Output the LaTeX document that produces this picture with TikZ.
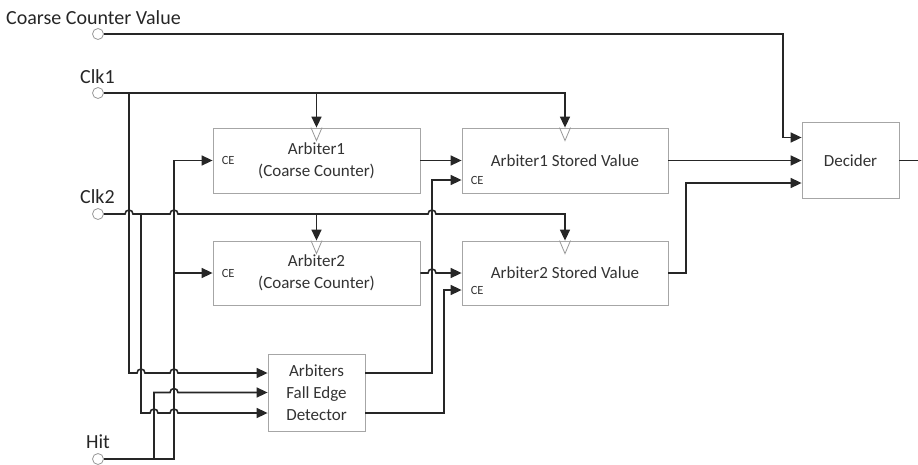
\documentclass[tikz,border=0pt]{standalone}
\usepackage{fontspec}
\setmainfont{Carlito}
\usetikzlibrary{arrows.meta}
\begin{document}
\begin{tikzpicture}[x=1pt,y=-1pt,
 wire/.style={line width=1.6pt, draw=black!85},
 arr/.style={wire, -{Triangle[length=11pt,width=10pt]}},
 blk/.style={draw=black!35, line width=0.8pt, fill=white, inner sep=0pt, text=black!80, font=\fontsize{17}{22}\selectfont, align=center},
 lbl/.style={inner sep=0pt, text=black!85, font=\fontsize{20}{23}\selectfont},
 ce/.style={inner sep=0pt, text=black!80, font=\fontsize{12.5}{14}\selectfont},
 pin/.style={circle, draw=black!40, fill=white, line width=0.8pt, minimum size=11pt, inner sep=0pt},
 clk/.style={draw=black!40, line width=0.8pt},
]
\useasboundingbox (0,0) rectangle (918,464);

% blocks
\node[blk, minimum width=207pt, minimum height=65pt] (arb1) at (316.5,160.5) {Arbiter1\\(Coarse Counter)};
\node[blk, minimum width=207pt, minimum height=64pt] (arb2) at (316.5,273) {Arbiter2\\(Coarse Counter)};
\node[blk, minimum width=206pt, minimum height=65pt] (sv1) at (565,160.5) {Arbiter1 Stored Value};
\node[blk, minimum width=206pt, minimum height=64pt] (sv2) at (565,273) {Arbiter2 Stored Value};
\node[blk, minimum width=97pt, minimum height=76pt] (dec) at (850.5,160.5) {Decider};
\node[blk, minimum width=97pt, minimum height=77pt] (fed) at (316.5,392.5) {Arbiters\\Fall Edge\\Detector};

% CE labels
\node[ce, anchor=west] (ce1) at ([xshift=9pt]arb1.west) {CE};
\node[ce, anchor=west] (ce2) at ([xshift=9pt]arb2.west) {CE};
\node[ce, anchor=west] (ce3) at ([xshift=9pt,yshift=-19.5pt]sv1.west) {CE};
\node[ce, anchor=west] (ce4) at ([xshift=9pt,yshift=-17pt]sv2.west) {CE};

% clock triangles
\foreach \n in {arb1,arb2,sv1,sv2}
  \draw[clk] ([xshift=-5.5pt]\n.north) -- ([yshift=-13pt]\n.north) -- ([xshift=5.5pt]\n.north);

% input pins and labels
\node[pin] (ccv) at (98,34) {};
\node[pin] (clk1) at (98,93) {};
\node[pin] (clk2) at (98,214) {};
\node[pin] (hit) at (98,459) {};
\node[lbl, anchor=base west] (ccvL) at (6,24) {Coarse Counter Value};
\node[lbl, anchor=base west] (clk1L) at (80,83) {Clk1};
\node[lbl, anchor=base west] (clk2L) at (80,203) {Clk2};
\node[lbl, anchor=base west] (hitL) at (86,448) {Hit};

% junction coordinates
\coordinate (j1) at (129,93);
\coordinate (j2) at (141,214);
\coordinate (h1) at (174,273);
\coordinate (h2) at (154,459);
\coordinate (out) at (918,160.5);

% Coarse counter value
\draw[arr] (ccv.east) -- (783,34) |- ([yshift=23pt]dec.west);

% Clk1
\draw[arr] (clk1.east) -| (sv1.north);
\draw[arr] (arb1.north |- clk1) -- (arb1.north);
\draw[arr] (j1) -- (129,373) -- (137,373) arc[start angle=180,end angle=0,radius=4pt]
  -- (170,373) arc[start angle=180,end angle=0,radius=4pt] -- ([yshift=19.5pt]fed.west);

% Clk2
\draw[arr] (clk2.east) -- (125,214) arc[start angle=180,end angle=0,radius=4pt]
  -- (170,214) arc[start angle=180,end angle=0,radius=4pt]
  -- (428,214) arc[start angle=180,end angle=0,radius=4pt] -| (sv2.north);
\draw[arr] (arb2.north |- clk2) -- (arb2.north);
\draw[arr] (j2) -- (141,413) -- (150,413) arc[start angle=180,end angle=0,radius=4pt]
  -- (170,413) arc[start angle=180,end angle=0,radius=4pt] -- ([yshift=-20.5pt]fed.west);

% Hit
\draw[arr] (hit.east) -- (174,459) |- (arb1.west);
\draw[arr] (h1) -- (arb2.west);
\draw[arr] (h2) -- (154,392.5) -- (170,392.5) arc[start angle=180,end angle=0,radius=4pt] -- (fed.west);

% arbiters to stored values
\draw[arr] (arb1.east) -- (sv1.west);
\draw[arr] (arb2.east) -- (428,273) arc[start angle=180,end angle=0,radius=4pt] -- (sv2.west);

% detector to CE of stored values
\draw[arr] ([yshift=19.5pt]fed.east) -- (432,373) |- ([yshift=-19.5pt]sv1.west);
\draw[arr] ([yshift=-20.5pt]fed.east) -- (444,413) |- ([yshift=-17pt]sv2.west);

% stored values to decider
\draw[arr] (sv1.east) -- (dec.west);
\draw[arr] (sv2.east) -- (686,273) |- ([yshift=-22.5pt]dec.west);

% decider output
\draw[wire] (dec.east) -- (out);
\end{tikzpicture}
\end{document}
